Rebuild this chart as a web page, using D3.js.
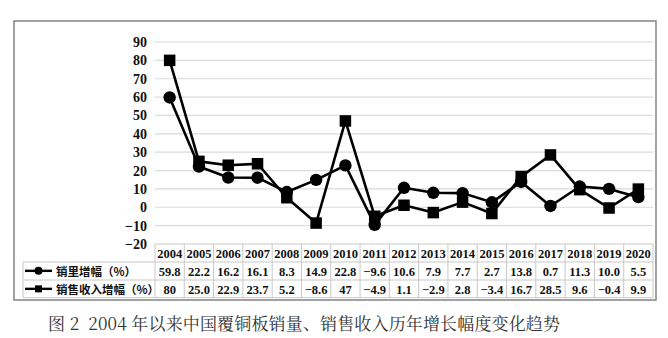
<!DOCTYPE html>
<html>
<head>
<meta charset="utf-8">
<script src="https://cdn.jsdelivr.net/npm/d3@7"></script>
<style>
  html, body { margin: 0; padding: 0; background: #fff; }
  svg { display: block; }
</style>
</head>
<body>
<svg id="chart" width="668" height="338"></svg>
<script>
// Years shown along the data table
const years = ["2004","2005","2006","2007","2008","2009","2010","2011","2012","2013","2014","2015","2016","2017","2018","2019","2020"];
// Sales volume growth (%), as printed in the table
const volumeGrowth = ["59.8","22.2","16.2","16.1","8.3","14.9","22.8","-9.6","10.6","7.9","7.7","2.7","13.8","0.7","11.3","10.0","5.5"];
// Sales revenue growth (%), as printed in the table
const revenueGrowth = ["80","25.0","22.9","23.7","5.2","-8.6","47","-4.9","1.1","-2.9","2.8","-3.4","16.7","28.5","9.6","-0.4","9.9"];
// Vertical axis ticks
const yTicks = [-20, -10, 0, 10, 20, 30, 40, 50, 60, 70, 80, 90];
// Row labels of the data table
const seriesNames = ["销里增幅（%）", "销售收入增幅（%）"];
const caption = "图 2  2004 年以来中国覆铜板销量、销售收入历年增长幅度变化趋势";

const svg = d3.select("#chart");
const numFont = "'Liberation Serif', 'DejaVu Serif', serif";
const cjkFont = "'Noto Sans CJK SC', 'Noto Sans', sans-serif";

const plotLeft = 155, plotRight = 653;
const x = d3.scaleBand().domain(years).range([plotLeft, plotRight]).padding(0);
const y = d3.scaleLinear().domain([-20, 90]).range([244, 42]);

// outer frame
svg.append("rect")
  .attr("x", 14).attr("y", 21).attr("width", 642).attr("height", 279)
  .attr("fill", "#fff").attr("stroke", "#8a8a8a").attr("stroke-width", 1.6);

// horizontal gridlines
svg.append("g").selectAll("line")
  .data(yTicks.filter(t => t > -20))
  .join("line")
  .attr("x1", plotLeft).attr("x2", plotRight)
  .attr("y1", d => y(d)).attr("y2", d => y(d))
  .attr("stroke", "#dadada").attr("stroke-width", 1.2);

// y axis labels
const yAxis = d3.axisLeft(y).tickValues(yTicks).tickSize(0).tickPadding(0)
  .tickFormat(d3.format("d"));
const yg = svg.append("g").attr("transform", "translate(147,0)").call(yAxis);
yg.select(".domain").remove();
yg.selectAll("text")
  .attr("font-family", numFont).attr("font-weight", "bold")
  .attr("font-size", 14).attr("fill", "#111");

// data table
const rowTop = [244, 262, 280];
const rowH = 17.7;
const labelLeft = 23;
const tableBottom = rowTop[2] + rowH;
const tg = svg.append("g");
const gridColor = "#c8c8c8";

// horizontal table rules
tg.append("line").attr("x1", plotLeft).attr("x2", plotRight)
  .attr("y1", rowTop[0]).attr("y2", rowTop[0]).attr("stroke", gridColor);
[rowTop[1], rowTop[2], tableBottom].forEach(yy => {
  tg.append("line").attr("x1", labelLeft).attr("x2", plotRight)
    .attr("y1", yy).attr("y2", yy).attr("stroke", gridColor);
});
// vertical table rules
years.forEach(yr => {
  tg.append("line").attr("x1", x(yr)).attr("x2", x(yr))
    .attr("y1", rowTop[0]).attr("y2", tableBottom).attr("stroke", gridColor);
});
tg.append("line").attr("x1", plotRight).attr("x2", plotRight)
  .attr("y1", rowTop[0]).attr("y2", tableBottom).attr("stroke", gridColor);
tg.append("line").attr("x1", labelLeft).attr("x2", labelLeft)
  .attr("y1", rowTop[1]).attr("y2", tableBottom).attr("stroke", gridColor);

const cellText = (sel) => sel
  .attr("font-family", numFont).attr("font-weight", "bold")
  .attr("font-size", 12.5).attr("fill", "#111")
  .attr("text-anchor", "middle").attr("dominant-baseline", "central");

const fmtCell = s => s.replace("-", "\u2212");

tg.append("g").selectAll("text").data(years).join("text")
  .attr("x", d => x(d) + x.bandwidth() / 2).attr("y", rowTop[0] + rowH / 2 + 1)
  .text(d => d).call(cellText);
tg.append("g").selectAll("text").data(volumeGrowth).join("text")
  .attr("x", (d, i) => x(years[i]) + x.bandwidth() / 2).attr("y", rowTop[1] + rowH / 2 + 1)
  .text(fmtCell).call(cellText);
tg.append("g").selectAll("text").data(revenueGrowth).join("text")
  .attr("x", (d, i) => x(years[i]) + x.bandwidth() / 2).attr("y", rowTop[2] + rowH / 2 + 1)
  .text(fmtCell).call(cellText);

// row labels with legend keys
seriesNames.forEach((name, i) => {
  const cy = rowTop[i + 1] + rowH / 2;
  tg.append("line").attr("x1", 25).attr("x2", 52).attr("y1", cy).attr("y2", cy)
    .attr("stroke", "#000").attr("stroke-width", 2.4);
  if (i === 0) {
    tg.append("circle").attr("cx", 38.5).attr("cy", cy).attr("r", 4).attr("fill", "#000");
  } else {
    tg.append("rect").attr("x", 35).attr("y", cy - 3.5).attr("width", 7).attr("height", 7).attr("fill", "#000");
  }
  tg.append("text").attr("x", 56).attr("y", cy + 0.5)
    .attr("font-family", cjkFont).attr("font-weight", "bold").attr("font-size", 11.5)
    .attr("dominant-baseline", "central").attr("fill", "#111")
    .text(name);
});

// series lines and markers
const cx = i => x(years[i]) + x.bandwidth() / 2;
const line = d3.line().x((d, i) => cx(i)).y(d => y(+d));

const volG = svg.append("g");
volG.append("path").datum(volumeGrowth).attr("d", line)
  .attr("fill", "none").attr("stroke", "#000").attr("stroke-width", 2.6)
  .attr("stroke-linejoin", "round");
volG.selectAll("circle").data(volumeGrowth).join("circle")
  .attr("cx", (d, i) => cx(i)).attr("cy", d => y(+d)).attr("r", 6.2).attr("fill", "#000");

const revG = svg.append("g");
const sq = 11.5;
revG.append("path").datum(revenueGrowth).attr("d", line)
  .attr("fill", "none").attr("stroke", "#000").attr("stroke-width", 2.6)
  .attr("stroke-linejoin", "round");
revG.selectAll("rect").data(revenueGrowth).join("rect")
  .attr("x", (d, i) => cx(i) - sq / 2).attr("y", d => y(+d) - sq / 2)
  .attr("width", sq).attr("height", sq).attr("fill", "#000");

// figure caption
svg.append("text")
  .attr("x", 48).attr("y", 330)
  .attr("font-family", "'Noto Serif CJK SC', " + cjkFont)
  .attr("font-size", 17).attr("fill", "#333")
  .attr("xml:space", "preserve")
  .attr("textLength", 512).attr("lengthAdjust", "spacing")
  .text(caption);
</script>
</body>
</html>
